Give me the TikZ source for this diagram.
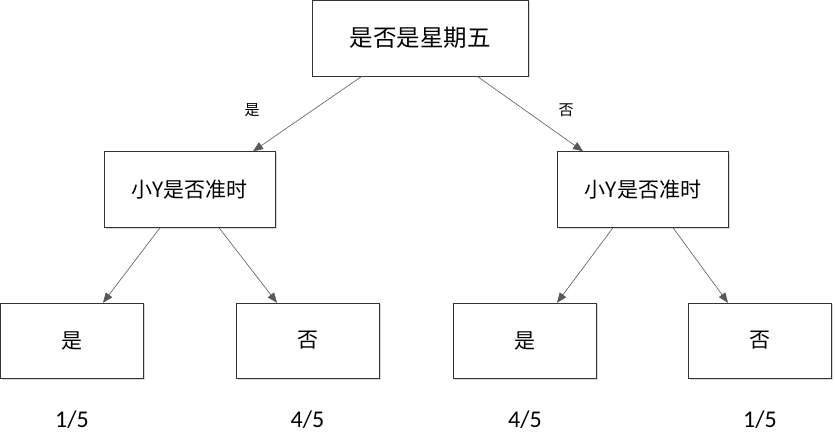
\documentclass[tikz,border=0pt]{standalone}
\usepackage{fontspec}
\setmainfont{Carlito}
\newfontfamily\cjk{Noto Sans CJK SC}
\usetikzlibrary{arrows.meta,positioning,calc,shadows}

\begin{document}
\begin{tikzpicture}[
    x=1pt, y=-1pt,
    box/.style={draw=black!80, fill=white, inner sep=0pt,
        minimum width=143pt, minimum height=75pt,
        font=\cjk\fontsize{21}{21}\selectfont,
        drop shadow={shadow xshift=1.5pt, shadow yshift=-1.5pt, fill=black!25, opacity=0.6}},
    link/.style={draw=black!65, line width=0.6pt, -{Triangle[length=10pt, width=8pt]}},
    lbl/.style={font=\cjk\fontsize{15}{15}\selectfont},
    frac/.style={font=\fontsize{24}{24}\selectfont}
]
\useasboundingbox (0,0) rectangle (835,435);
% Root and second level
\node[box, minimum width=216pt, minimum height=76pt, font=\cjk\fontsize{23.5}{23.5}\selectfont] (top) at (420,38) {是否是星期五};
\node[box, minimum width=171pt, minimum height=76pt] (midl) at (189.5,189.5) {小Y是否准时};
\node[box, minimum width=171pt, minimum height=76pt] (midr) at (643,189.5) {小Y是否准时};
% Leaves with their ratios below
\foreach \n/\x/\t/\p in {
    b1/72/是/1\slash 5,
    b2/307.5/否/4\slash 5,
    b3/525/是/4\slash 5,
    b4/760/否/1\slash 5
} {
    \node[box] (\n) at (\x,340.5) {\t};
    \node[frac] (\n-p) at (\x,419.5) {\p};
}
% Branches
\draw[link] ($(top.south)+(-58,0)$) -- ($(midl.north)+(63.5,0)$);
\draw[link] ($(top.south)+(57,0)$) -- ($(midr.north)+(-60,0)$);
\node[lbl] (yes) at (252,110) {是};
\node[lbl] (no) at (566,110) {否};
\draw[link] ($(midl.south)+(-29.5,0)$) -- ($(b1.north)+(31,0)$);
\draw[link] ($(midl.south)+(29.5,0)$) -- ($(b2.north)+(-30.5,0)$);
\draw[link] ($(midr.south)+(-30,0)$) -- ($(b3.north)+(32,0)$);
\draw[link] ($(midr.south)+(30,0)$) -- ($(b4.north)+(-32,0)$);
\end{tikzpicture}
\end{document}
